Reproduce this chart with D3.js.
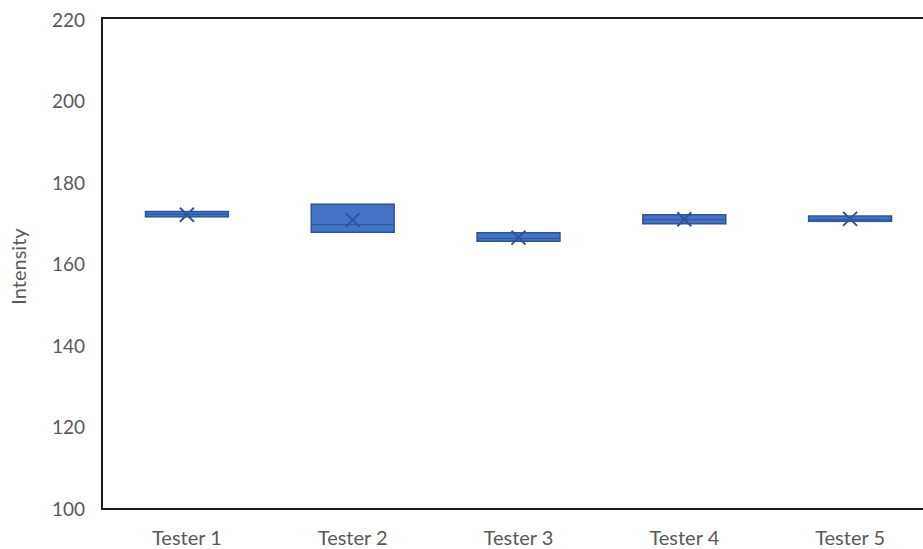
<!DOCTYPE html>
<html>
<head>
<meta charset="utf-8">
<script src="https://cdn.jsdelivr.net/npm/d3@7"></script>
<style>
  html, body { margin: 0; padding: 0; background: #fff; }
  svg { display: block; font-family: Lato, "Open Sans", "Liberation Sans", sans-serif; }
</style>
</head>
<body>
<svg id="chart" width="923" height="549"></svg>
<script>
// Box-plot summary for each tester
const testers = ["Tester 1", "Tester 2", "Tester 3", "Tester 4", "Tester 5"];
const q1     = [171.7, 167.9, 165.7, 170.0, 170.6];
const median = [172.3, 169.8, 166.4, 171.0, 171.0];
const q3     = [173.0, 174.8, 167.8, 172.2, 171.9];
const means  = [172.2, 170.9, 166.6, 171.1, 171.2];
const mins   = [171.7, 167.9, 165.7, 170.0, 170.6];
const maxs   = [173.0, 174.8, 167.8, 172.2, 171.9];
const yTicks = [100, 120, 140, 160, 180, 200, 220];

const svg = d3.select("#chart");
const m = { left: 102, top: 20, bottom: 509, right: 933 };

const x = d3.scaleBand().domain(testers).range([m.left + 2, m.right]).paddingInner(0).paddingOuter(0);
const y = d3.scaleLinear().domain([100, 220]).range([m.bottom, m.top]);

// Plot frame
svg.append("rect")
  .attr("x", m.left).attr("y", y(220) - 2)
  .attr("width", m.right - m.left + 10).attr("height", m.bottom - y(220) + 2)
  .attr("fill", "none").attr("stroke", "#1a1a1a").attr("stroke-width", 2);

// Y axis labels
const yAxis = d3.axisLeft(y).tickValues(yTicks).tickSize(0).tickPadding(17);
const gy = svg.append("g").attr("transform", `translate(${m.left},0)`).call(yAxis);
gy.select(".domain").remove();
gy.selectAll("text").attr("fill", "#595959").style("font-size", "19px");

// X axis labels
const xAxis = d3.axisBottom(x).tickSize(0).tickPadding(22);
const gx = svg.append("g").attr("transform", `translate(0,${m.bottom})`).call(xAxis);
gx.select(".domain").remove();
gx.selectAll("text").attr("fill", "#595959").style("font-size", "20px");
svg.selectAll("g").attr("font-family", null);

svg.append("text")
  .attr("transform", `translate(26,${(m.top + m.bottom) / 2 + 2}) rotate(-90)`)
  .attr("text-anchor", "middle")
  .attr("fill", "#595959").style("font-size", "20px")
  .text("Intensity");

const data = testers.map((t, i) => ({ t, q1: q1[i], med: median[i], q3: q3[i], mean: means[i], min: mins[i], max: maxs[i] }));
const bw = x.bandwidth() * 0.5;

const g = svg.append("g").selectAll("g").data(data).join("g")
  .attr("transform", d => `translate(${x(d.t) + x.bandwidth() / 2},0)`);

// Whiskers
g.append("line")
  .attr("x1", 0).attr("x2", 0)
  .attr("y1", d => y(d.max)).attr("y2", d => y(d.min))
  .attr("stroke", "#2f5597").attr("stroke-width", 1);

// Boxes
g.append("rect")
  .attr("x", -bw / 2).attr("width", bw)
  .attr("y", d => y(d.q3)).attr("height", d => y(d.q1) - y(d.q3))
  .attr("fill", "#4472c4").attr("stroke", "#2f5597").attr("stroke-width", 1.5);

// Median
g.append("line")
  .attr("x1", -bw / 2).attr("x2", bw / 2)
  .attr("y1", d => y(d.med)).attr("y2", d => y(d.med))
  .attr("stroke", "#2f5597").attr("stroke-width", 1);

// Mean marker
const s = 7;
g.append("path")
  .attr("d", d => { const cy = y(d.mean); return `M${-s},${cy - s}L${s},${cy + s}M${-s},${cy + s}L${s},${cy - s}`; })
  .attr("stroke", "#2f5597").attr("stroke-width", 2).attr("fill", "none");
</script>
</body>
</html>
